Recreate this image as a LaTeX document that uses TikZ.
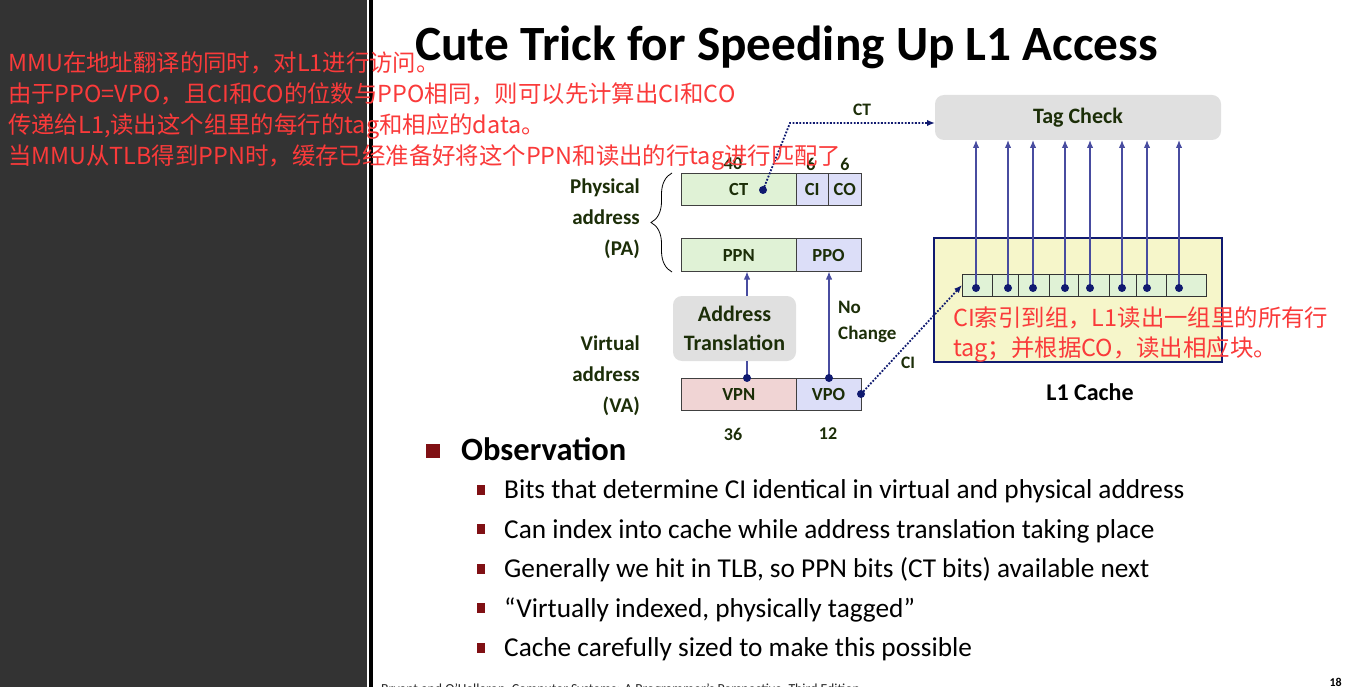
\documentclass[tikz,border=0pt]{standalone}
\usepackage{fontspec}
\setmainfont{Carlito}
\newfontfamily\cjk{Noto Sans CJK SC}
\usetikzlibrary{arrows.meta, decorations.pathreplacing}

\definecolor{panelgray}{RGB}{51,51,51}
\definecolor{notered}{RGB}{250,58,58}
\definecolor{labelgreen}{RGB}{28,46,8}
\definecolor{navyline}{RGB}{16,26,112}
\definecolor{wireblue}{RGB}{72,76,160}
\definecolor{fillgreen}{RGB}{224,242,214}
\definecolor{filllav}{RGB}{220,222,248}
\definecolor{fillpink}{RGB}{240,212,212}
\definecolor{fillgray}{RGB}{224,224,224}
\definecolor{fillyellow}{RGB}{246,246,202}
\definecolor{bulletred}{RGB}{128,16,20}

\newcommand{\fsz}[2]{\fontsize{#1}{#2}\selectfont}

\begin{document}
\begin{tikzpicture}[x=1pt, y=-1pt,
  field/.style={draw=black!75, line width=1pt, inner sep=0pt, outer sep=0pt, anchor=north west,
    minimum height=32.5pt, font=\bfseries\fsz{18.5}{18.5}, text=labelgreen},
  cell/.style={draw=black!80, line width=1pt, fill=fillgreen, inner sep=0pt, outer sep=0pt,
    anchor=north west, minimum height=22pt},
  roundbox/.style={fill=fillgray, rounded corners=9pt, inner sep=0pt, outer sep=0pt, anchor=north west,
    align=center, text=labelgreen},
  lbl/.style={font=\bfseries\fsz{#1}{#1}, text=labelgreen, inner sep=0pt},
  wire/.style={wireblue, line width=1.3pt},
  tip/.style={-{Latex[length=8pt, width=6.5pt]}, shorten >=0pt},
  dotlink/.style={navyline, line width=1.8pt, dash pattern=on 1.8pt off 1.6pt,
    -{Latex[length=8pt, width=6.5pt, fill=navyline]}},
  memo/.style={font=\cjk\fsz{23.4}{23.4}, text=notered, inner sep=0pt, anchor=base west},
  item/.style={font=\fsz{27.3}{27.3}, inner sep=0pt, anchor=base west},
  sq/.style={fill=bulletred, inner sep=0pt, minimum width=#1, minimum height=#1}
]
% 页面底色与左侧面板
\useasboundingbox (0,0) rectangle (1360,687);
\fill[white] (0,0) rectangle (1360,687);
\fill[panelgray] (0,0) rectangle (367,687);
\fill[black] (369,0) rectangle (373,687);

% 标题
\node[font=\bfseries\fsz{49.3}{49.3}, inner sep=0pt, anchor=base west] (title) at (415,61) {Cute Trick for Speeding Up L1 Access};

% 物理地址两行
\node[field, fill=fillgreen, minimum width=114.5pt] (ct) at (681.5,173.5) {CT};
\node[field, fill=filllav, minimum width=32.5pt] (ci) at (796,173.5) {CI};
\node[field, fill=filllav, minimum width=32.5pt] (co) at (828.5,173.5) {CO};
\node[field, fill=fillgreen, minimum width=114.5pt] (ppn) at (681.5,239) {PPN};
\node[field, fill=filllav, minimum width=65pt] (ppo) at (796,239) {PPO};

% 虚拟地址
\node[field, fill=fillpink, minimum width=114.5pt] (vpn) at (681.5,378) {VPN};
\node[field, fill=filllav, minimum width=65pt] (vpo) at (796,378) {VPO};

% 位数
\node[lbl=18] (nct) at (733,164) {40};
\node[lbl=18] (nci) at (811,164) {6};
\node[lbl=18] (nco) at (845,164) {6};
\node[lbl=18] (nvpn) at (733,434) {36};
\node[lbl=18] (nvpo) at (828,434) {12};

% 左侧说明与花括号
\node[lbl=21, font=\bfseries\fsz{21}{31}, align=right, anchor=east] (palbl) at (640,219) {Physical\\address\\(PA)};
\node[lbl=21, font=\bfseries\fsz{21}{31}, align=right, anchor=east] (valbl) at (640,376) {Virtual\\address\\(VA)};
\draw[decorate, decoration={brace, amplitude=21pt}, line width=0.8pt] (672,272) -- (672,173);

% 地址翻译与 Tag Check
\node[roundbox, minimum width=123pt, minimum height=65pt, font=\bfseries\fsz{22}{29}] (xlat) at (673,296) {Address\\Translation};
\node[roundbox, minimum width=286pt, minimum height=45pt, font=\bfseries\fsz{22}{22}] (tag) at (935,95) {Tag Check};

% L1 缓存
\node[draw=navyline, line width=2pt, fill=fillyellow, inner sep=0pt, outer sep=0pt, anchor=north west,
  minimum width=287.5pt, minimum height=123.5pt] (cache) at (934,238) {};
\node[font=\bfseries\fsz{24}{24}, inner sep=0pt] (cachelbl) at (1090,392) {L1 Cache};
\foreach \l/\r/\d [count=\i] in {962/992/976, 992/1018/1008, 1018/1049/1033, 1049/1078/1065,
    1078/1109/1090, 1109/1136/1122, 1136/1166/1147, 1166/1206/1179}{
  \node[cell, minimum width={(\r-\l)*1pt}] (c\i) at (\l,274) {};
  \coordinate (d\i) at (\d,288);
}
\foreach \i in {1,...,8}{
  \draw[wire, tip] (d\i) -- (d\i |- tag.south);
  \fill[navyline] (d\i) circle (4pt);
}

% 连线
\coordinate (ctdot) at (763,190);
\coordinate (ctbend) at (790,123);
\coordinate (vpndot) at (747,378);
\coordinate (vpodot) at (829,378);
\coordinate (vpoend) at (861,394);
\draw[wire] (vpndot) -- (vpndot |- xlat.south);
\draw[wire, tip] (vpndot |- xlat.north) -- (vpndot |- ppn.south);
\draw[wire, tip] (vpodot) -- (vpodot |- ppo.south);
\draw[dotlink] (ctdot) -- (ctbend) -- (ctbend -| tag.west);
\draw[dotlink] (vpoend) -- (c1.west);
\foreach \p in {ctdot, vpndot, vpodot, vpoend}
  \fill[navyline] (\p) circle (4pt);

\node[lbl=17.5] (ctlbl) at (862,110) {CT};
\node[lbl=17.5] (cilbl) at (908,363) {CI};
\node[lbl=19, font=\bfseries\fsz{19}{26}, align=left, anchor=west] (nochg) at (838,322) {No\\Change};

% Observation 列表
\node[sq=14pt] (obsbul) at (433,451) {};
\node[font=\bfseries\fsz{32.5}{32.5}, inner sep=0pt, anchor=base west] (obs) at (461,460) {Observation};
\foreach \t [count=\i] in {{Bits that determine CI identical in virtual and physical address},
    {Can index into cache while address translation taking place},
    {Generally we hit in TLB, so PPN bits (CT bits) available next},
    {“Virtually indexed, physically tagged”},
    {Cache carefully sized to make this possible}}{
  \node[sq=8pt, minimum height=10pt] (b\i) at (481,{489.5+39.5*(\i-1)}) {};
  \node[item] (t\i) at (504,{498.5+39.5*(\i-1)}) {\t};
}

% 页脚
\node[font=\fsz{13.8}{13.8}, text=black!85, inner sep=0pt, anchor=base west] (foot) at (381,693)
  {Bryant and O’Hallaron, Computer Systems: A Programmer’s Perspective, Third Edition};
\node[font=\bfseries\fsz{12}{12}, inner sep=0pt, anchor=base east] (page) at (1342,686) {18};

% 红色批注
\node[memo] (m1) at (8,72) {MMU在地址翻译的同时，对L1进行访问。};
\node[memo] (m2) at (8,103) {由于PPO=VPO，且CI和CO的位数与PPO相同，则可以先计算出CI和CO};
\node[memo] (m3) at (8,134) {传递给L1,读出这个组里的每行的tag和相应的data。};
\node[memo] (m4) at (8,165) {当MMU从TLB得到PPN时，缓存已经准备好将这个PPN和读出的行tag进行匹配了};
\node[memo] (m5) at (953,326) {CI索引到组，L1读出一组里的所有行};
\node[memo] (m6) at (953,356) {tag；并根据CO，读出相应块。};
\end{tikzpicture}
\end{document}
